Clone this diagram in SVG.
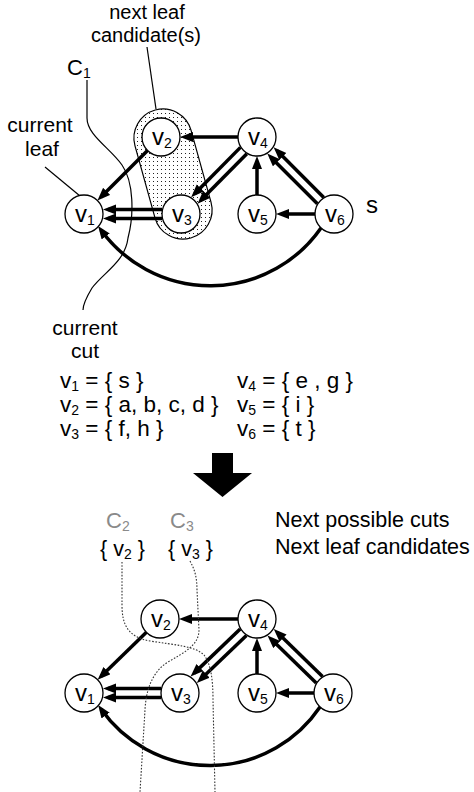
<svg xmlns="http://www.w3.org/2000/svg" width="474" height="792" viewBox="0 0 474 792">
<defs>
<style>
text{font-family:"Liberation Sans",Arial,Helvetica,sans-serif;fill:#000}
.lbl{font-size:21px}
.lbl2{font-size:20px}
.nl{font-size:24px}
.sb{font-size:14px}
.def{font-size:22.5px}
.def2{font-size:21.5px}
.dsb{font-size:14px}
.node circle{fill:#fff;stroke:#000;stroke-width:1.3}
.e{stroke:#000;stroke-width:3.5;fill:none;marker-end:url(#ah)}
.thin{stroke:#000;stroke-width:1.2;fill:none}
.dot{stroke:#333;stroke-width:1.1;fill:none;stroke-dasharray:1.6 1.6}
.gray{fill:#8a8a8a}
</style>
<marker id="ah" markerUnits="userSpaceOnUse" markerWidth="14" markerHeight="11" refX="8" refY="5" orient="auto"><path d="M0,0 L13,5 L0,10 Z" fill="#000"/></marker>
<pattern id="dots" width="4" height="4" patternUnits="userSpaceOnUse"><rect x="1" y="1" width="1" height="1" fill="#222"/></pattern>
</defs>
<rect width="474" height="792" fill="#fff"/>

<g id="candidate-region">
<path d="M191,130.2 L211,202.2 A29 29 0 0 1 155,217.8 L135,145.8 A29 29 0 0 1 191,130.2 Z" fill="url(#dots)" stroke="#000" stroke-width="1.2"/>
</g>
<g id="labels-top">
<text class="lbl2" x="147" y="19" text-anchor="middle">next leaf</text>
<text class="lbl2" x="146" y="41.5" text-anchor="middle">candidate(s)</text>
<line class="thin" x1="147" y1="47" x2="156" y2="109"/>
<text class="lbl" x="40" y="132" text-anchor="middle">current</text>
<text class="lbl" x="42" y="156" text-anchor="middle">leaf</text>
<line class="thin" x1="45" y1="167" x2="80" y2="196"/>
<text x="67" y="75" style="font-size:22px">C<tspan class="sb" dy="3">1</tspan></text>
<path class="thin" d="M87,80 L87,118 C87,135 110,148 122,165 C134,182 134,215 128,238 C125,262 104,272 92,288 C86,298 83,305 83,310"/>
<text class="lbl" x="85" y="335" text-anchor="middle">current</text>
<text class="lbl" x="85" y="358" text-anchor="middle">cut</text>
<text x="366" y="213" style="font-size:24px">s</text>
</g>

<g id="connectors-top">
<line class="e" x1="238" y1="137" x2="185" y2="137"/>
<line class="e" x1="147.57" y1="150.43" x2="100.97" y2="197.03"/>
<line class="e" x1="246.85" y1="153.68" x2="201.06" y2="200.08"/>
<line class="e" x1="240.45" y1="147.36" x2="194.66" y2="193.76"/>
<line class="e" x1="162" y1="209.5" x2="108" y2="209.5"/>
<line class="e" x1="162" y1="218.5" x2="108" y2="218.5"/>
<line class="e" x1="257" y1="195" x2="257" y2="161"/>
<line class="e" x1="315" y1="214" x2="281" y2="214"/>
<line class="e" x1="323.75" y1="197.39" x2="277.15" y2="150.79"/>
<line class="e" x1="317.39" y1="203.75" x2="270.79" y2="157.15"/>
<path class="e" d="M321,228 A135 135 0 0 1 101,230"/>
</g>

<g id="t-v1" class="node"><circle cx="84" cy="214" r="19"/><text class="nl" x="75" y="221.5">v<tspan class="sb" dy="3">1</tspan></text></g>
<g id="t-v2" class="node"><circle cx="161" cy="137" r="19"/><text class="nl" x="152" y="144.5">v<tspan class="sb" dy="3">2</tspan></text></g>
<g id="t-v3" class="node"><circle cx="181" cy="214" r="19"/><text class="nl" x="172" y="221.5">v<tspan class="sb" dy="3">3</tspan></text></g>
<g id="t-v4" class="node"><circle cx="257" cy="137" r="19"/><text class="nl" x="248" y="144.5">v<tspan class="sb" dy="3">4</tspan></text></g>
<g id="t-v5" class="node"><circle cx="257" cy="214" r="19"/><text class="nl" x="248" y="221.5">v<tspan class="sb" dy="3">5</tspan></text></g>
<g id="t-v6" class="node"><circle cx="334" cy="214" r="19"/><text class="nl" x="325" y="221.5">v<tspan class="sb" dy="3">6</tspan></text></g>

<g id="definitions">
<text class="def" x="60" y="388">v<tspan class="dsb" dy="3">1</tspan><tspan dy="-3"> = { s }</tspan></text>
<text class="def" x="60" y="412">v<tspan class="dsb" dy="3">2</tspan><tspan dy="-3"> = { a, b, c, d }</tspan></text>
<text class="def" x="60" y="436">v<tspan class="dsb" dy="3">3</tspan><tspan dy="-3"> = { f, h }</tspan></text>
<text class="def" x="237" y="388">v<tspan class="dsb" dy="3">4</tspan><tspan dy="-3"> = { e , g }</tspan></text>
<text class="def" x="237" y="412">v<tspan class="dsb" dy="3">5</tspan><tspan dy="-3"> = { i }</tspan></text>
<text class="def" x="237" y="436">v<tspan class="dsb" dy="3">6</tspan><tspan dy="-3"> = { t }</tspan></text>
</g>

<g id="big-arrow"><polygon points="212,453 233,453 233,473 252,473 222.5,497 193,473 212,473" fill="#000"/></g>

<g id="labels-bottom">
<text class="gray" x="106" y="528" style="font-size:22px">C<tspan class="sb" dy="3">2</tspan></text>
<text class="gray" x="170" y="528" style="font-size:22px">C<tspan class="sb" dy="3">3</tspan></text>
<text class="def2" x="100" y="556">{ v<tspan class="dsb" dy="3">2</tspan><tspan dy="-3"> }</tspan></text>
<text class="def2" x="168" y="556">{ v<tspan class="dsb" dy="3">3</tspan><tspan dy="-3"> }</tspan></text>
<text class="def2" x="275" y="527">Next possible cuts</text>
<text class="def2" x="275" y="554">Next leaf candidates</text>
</g>

<g id="connectors-bottom">
<line class="e" x1="238" y1="619" x2="184" y2="619"/>
<line class="e" x1="146.39" y1="632.25" x2="101.2" y2="676.26"/>
<line class="e" x1="246.42" y1="635.41" x2="200.42" y2="679.61"/>
<line class="e" x1="240.18" y1="628.93" x2="194.18" y2="673.13"/>
<line class="e" x1="161" y1="688.5" x2="108" y2="688.5"/>
<line class="e" x1="161" y1="697.5" x2="108" y2="697.5"/>
<line class="e" x1="257" y1="674" x2="257" y2="643"/>
<line class="e" x1="314" y1="693" x2="281" y2="693"/>
<line class="e" x1="322.53" y1="676.53" x2="277.34" y2="632.52"/>
<line class="e" x1="316.25" y1="682.97" x2="271.06" y2="638.96"/>
<path class="e" d="M320,707 A133 133 0 0 1 101,709"/>
</g>

<g id="b-v1" class="node"><circle cx="84" cy="693" r="19"/><text class="nl" x="75" y="700.5">v<tspan class="sb" dy="3">1</tspan></text></g>
<g id="b-v2" class="node"><circle cx="160" cy="619" r="19"/><text class="nl" x="151" y="626.5">v<tspan class="sb" dy="3">2</tspan></text></g>
<g id="b-v3" class="node"><circle cx="180" cy="693" r="19"/><text class="nl" x="171" y="700.5">v<tspan class="sb" dy="3">3</tspan></text></g>
<g id="b-v4" class="node"><circle cx="257" cy="619" r="19"/><text class="nl" x="248" y="626.5">v<tspan class="sb" dy="3">4</tspan></text></g>
<g id="b-v5" class="node"><circle cx="257" cy="693" r="19"/><text class="nl" x="248" y="700.5">v<tspan class="sb" dy="3">5</tspan></text></g>
<g id="b-v6" class="node"><circle cx="333" cy="693" r="19"/><text class="nl" x="324" y="700.5">v<tspan class="sb" dy="3">6</tspan></text></g>

<g id="cuts-bottom">
<path class="dot" d="M122,562 L122,605 C122,625 128,637 150,641 C175,645 195,646 204,655 C211,664 213,680 213,700 L215,792"/>
<path class="dot" d="M190,561 C195,570 197,578 197,590 L199,630 C199,645 185,652 168,662 C152,672 146,690 145,710 L140,792"/>
</g>
</svg>
